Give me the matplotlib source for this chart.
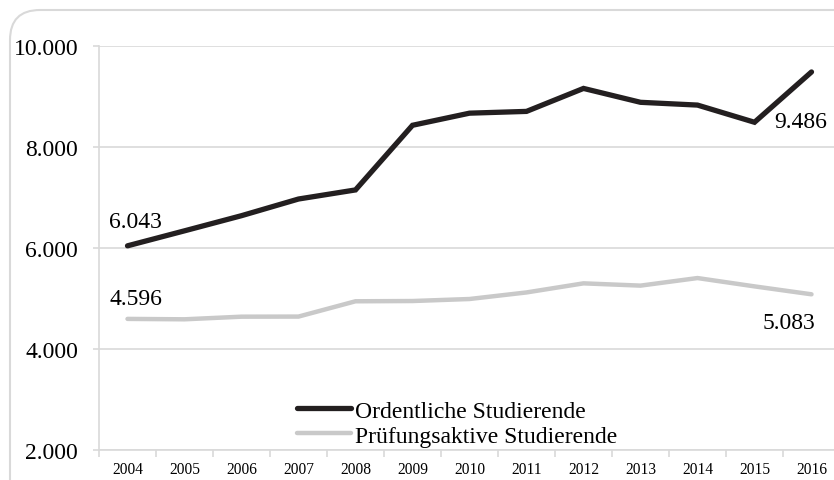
import matplotlib
matplotlib.use("Agg")
import matplotlib.pyplot as plt
from matplotlib.patches import FancyBboxPatch
from matplotlib.ticker import FuncFormatter

years = ["2004", "2005", "2006", "2007", "2008", "2009", "2010",
         "2011", "2012", "2013", "2014", "2015", "2016"]
ordentliche = [6043, 6340, 6640, 6970, 7150, 8430, 8670, 8705, 9160,
               8885, 8830, 8490, 9486]
pruefungsaktive = [4596, 4588, 4640, 4642, 4945, 4950, 4990, 5120, 5300,
                   5255, 5405, 5240, 5083]
label_ord = "Ordentliche Studierende"
label_pr = "Prüfungsaktive Studierende"

plt.rcParams["font.family"] = ["Liberation Serif", "DejaVu Serif"]

fig = plt.figure(figsize=(8.34, 4.81), dpi=100)
ax = fig.add_axes([99 / 834, 1 - 451 / 481, 741 / 834, 404 / 481])

# outer rounded frame, partly cut off at the right / bottom
frame = FancyBboxPatch((0.1, -0.3), 8.6, 5.0,
                       boxstyle="round,pad=0,rounding_size=0.3",
                       transform=fig.dpi_scale_trans, fc="none",
                       ec="#d9d9d9", lw=1.5, zorder=0)
fig.patches.append(frame)

xs = list(range(len(years)))
ax.plot(xs, ordentliche, color="#231f20", lw=3.8, solid_capstyle="round",
        solid_joinstyle="miter", label=label_ord, zorder=3)
ax.plot(xs, pruefungsaktive, color="#c9c9c9", lw=3.2, solid_capstyle="round",
        solid_joinstyle="miter", label=label_pr, zorder=2)

ax.set_xlim(-0.5, 12.5)
ax.set_ylim(2000, 10000)
ax.set_yticks([2000, 4000, 6000, 8000, 10000])
ax.yaxis.set_major_formatter(FuncFormatter(lambda v, p: f"{int(v):,}".replace(",", ".")))
ax.set_xticks(xs)
ax.set_xticklabels(years)
ax.set_xticks([x + 0.5 for x in xs[:-1]] + [-0.5], minor=True)
ax.tick_params(axis="x", which="major", length=0, labelsize=11.2, pad=8)
ax.tick_params(axis="x", which="minor", length=5, color="#d9d9d9", width=1.2)
ax.tick_params(axis="y", length=4.5, color="#d9d9d9", width=1.2, labelsize=17, pad=10.5)

ax.grid(axis="y", color="#d9d9d9", lw=1.2)
ax.set_axisbelow(True)
for s in ["top", "right"]:
    ax.spines[s].set_visible(False)
for s in ["left", "bottom"]:
    ax.spines[s].set_color("#d9d9d9")
    ax.spines[s].set_linewidth(1.2)

fmt = lambda v: f"{v:,}".replace(",", ".")
ax.annotate(fmt(ordentliche[0]), (0, ordentliche[0]), xytext=(-13, 10),
            textcoords="offset points", fontsize=17, va="bottom", ha="left")
ax.annotate(fmt(pruefungsaktive[0]), (0, pruefungsaktive[0]), xytext=(-13, 7),
            textcoords="offset points", fontsize=17, va="bottom", ha="left")
ax.annotate(fmt(ordentliche[-1]), (12, ordentliche[-1]), xytext=(11, -28),
            textcoords="offset points", fontsize=17, va="top", ha="right")
ax.annotate(fmt(pruefungsaktive[-1]), (12, pruefungsaktive[-1]), xytext=(3, -13),
            textcoords="offset points", fontsize=17, va="top", ha="right")

leg = ax.legend(loc="upper left", bbox_to_anchor=(297 / 834, 1 - 401 / 481),
                bbox_transform=fig.transFigure, frameon=False, fontsize=17,
                handlelength=2.3, handletextpad=0.15, labelspacing=0.15,
                borderpad=0, borderaxespad=0)

fig.savefig("out.png", dpi=100)
